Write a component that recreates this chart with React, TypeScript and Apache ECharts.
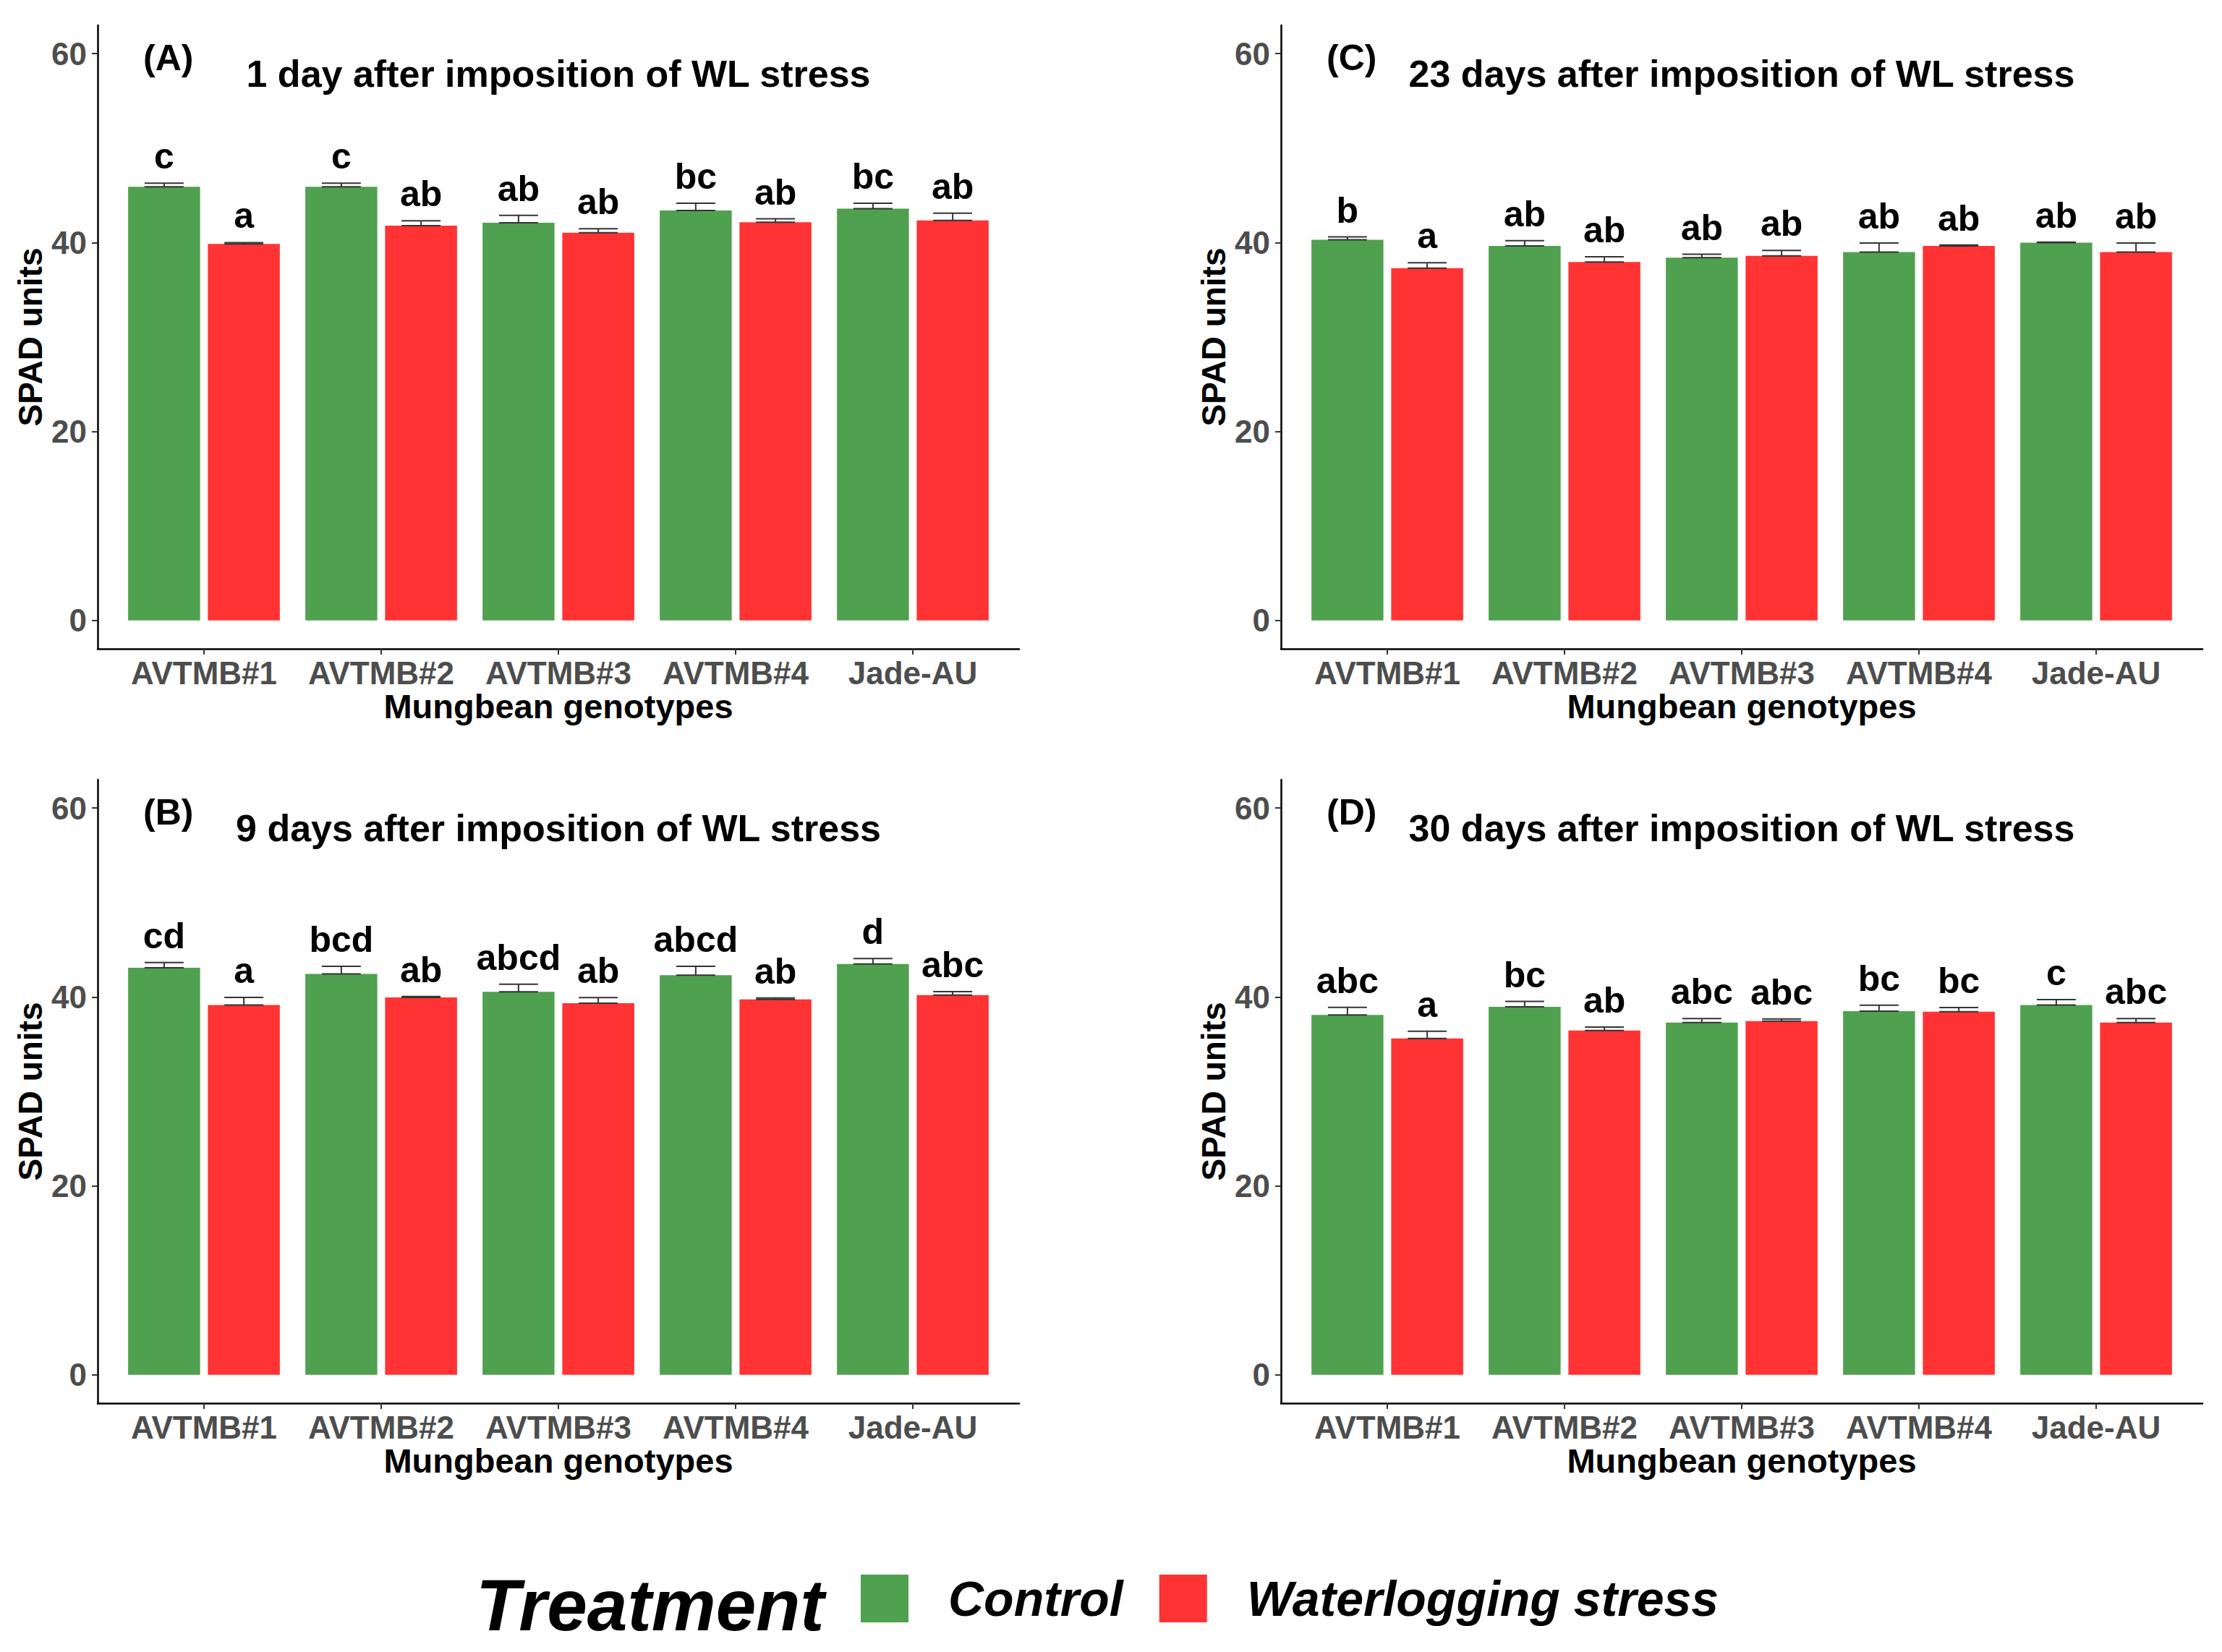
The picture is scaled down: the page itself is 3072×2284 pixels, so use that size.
import React, { useEffect, useRef } from "react";
import * as echarts from "echarts";

// ---------------- data ----------------
const genotypes = ["AVTMB#1", "AVTMB#2", "AVTMB#3", "AVTMB#4", "Jade-AU"];
const genotypePositions = [1, 2, 3, 4, 5];
const treatments = ["Control", "Waterlogging stress"];
const treatmentColors = ["#4FA04F", "#FF3333"];
const yTickValues = [0, 20, 40, 60];

const panelIds = ["(A)", "(B)", "(C)", "(D)"];
const panelTitles = [
  "1 day after imposition of WL stress",
  "9 days after imposition of WL stress",
  "23 days after imposition of WL stress",
  "30 days after imposition of WL stress",
];

// (A) 1 day
const aControlMean = [45.9, 45.9, 42.1, 43.4, 43.6];
const aControlSE = [0.38, 0.38, 0.78, 0.77, 0.57];
const aControlLetters = ["c", "c", "ab", "bc", "bc"];
const aStressMean = [39.85, 41.8, 41.05, 42.15, 42.35];
const aStressSE = [0.15, 0.5, 0.41, 0.36, 0.76];
const aStressLetters = ["a", "ab", "ab", "ab", "ab"];

// (B) 9 days
const bControlMean = [43.1, 42.45, 40.55, 42.3, 43.5];
const bControlSE = [0.55, 0.8, 0.8, 0.95, 0.57];
const bControlLetters = ["cd", "bcd", "abcd", "abcd", "d"];
const bStressMean = [39.15, 39.95, 39.35, 39.75, 40.2];
const bStressSE = [0.8, 0.1, 0.58, 0.15, 0.36];
const bStressLetters = ["a", "ab", "ab", "ab", "abc"];

// (C) 23 days
const cControlMean = [40.3, 39.65, 38.4, 39.0, 40.0];
const cControlSE = [0.3, 0.56, 0.36, 0.95, 0.05];
const cControlLetters = ["b", "ab", "ab", "ab", "ab"];
const cStressMean = [37.3, 37.95, 38.6, 39.65, 39.0];
const cStressSE = [0.56, 0.55, 0.56, 0.1, 0.95];
const cStressLetters = ["a", "ab", "ab", "ab", "ab"];

// (D) 30 days
const dControlMean = [38.1, 38.95, 37.3, 38.5, 39.15];
const dControlSE = [0.8, 0.58, 0.41, 0.64, 0.58];
const dControlLetters = ["abc", "bc", "abc", "bc", "c"];
const dStressMean = [35.6, 36.45, 37.45, 38.45, 37.3];
const dStressSE = [0.77, 0.36, 0.23, 0.44, 0.41];
const dStressLetters = ["a", "ab", "abc", "bc", "abc"];

// ---------------- layout ----------------
const FONT = "'Liberation Sans', Arial, Helvetica, sans-serif";
const PLOT_W = 1274;
const PLOT_H = 862;
const panelRects = [
  { left: 135, top: 35 },
  { left: 135, top: 1078 },
  { left: 1771, top: 35 },
  { left: 1771, top: 1078 },
];

const panels = [
  { mean: [aControlMean, aStressMean], se: [aControlSE, aStressSE], letters: [aControlLetters, aStressLetters] },
  { mean: [bControlMean, bStressMean], se: [bControlSE, bStressSE], letters: [bControlLetters, bStressLetters] },
  { mean: [cControlMean, cStressMean], se: [cControlSE, cStressSE], letters: [cControlLetters, cStressLetters] },
  { mean: [dControlMean, dStressMean], se: [dControlSE, dStressSE], letters: [dControlLetters, dStressLetters] },
];

const DODGE = 0.225;
const HALF_BAR = 0.203;
const HALF_CAP = 0.11;

function buildOption() {
  const grid: any[] = [];
  const xAxis: any[] = [];
  const yAxis: any[] = [];
  const series: any[] = [];
  const graphic: any[] = [];

  panels.forEach((p, pi) => {
    const r = panelRects[pi];
    grid.push({ left: r.left, top: r.top, width: PLOT_W, height: PLOT_H, containLabel: false });
    xAxis.push({
      gridIndex: pi,
      type: "value",
      min: 0.4,
      max: 5.6,
      name: "Mungbean genotypes",
      nameLocation: "middle",
      nameGap: 54,
      nameTextStyle: { fontSize: 47, fontWeight: "bold", color: "#000", fontFamily: FONT },
      axisLine: { show: true, onZero: false, lineStyle: { color: "#000", width: 2.5 } },
      axisTick: { show: true, customValues: genotypePositions, length: 8, lineStyle: { color: "#333", width: 2 } },
      axisLabel: {
        show: true,
        customValues: genotypePositions,
        formatter: (v: number) => genotypes[Math.round(v) - 1] ?? "",
        fontSize: 44,
        fontWeight: "bold",
        color: "#4D4D4D",
        fontFamily: FONT,
        margin: 11,
      },
      splitLine: { show: false },
    });
    yAxis.push({
      gridIndex: pi,
      type: "value",
      min: -3,
      max: 63,
      name: "SPAD units",
      nameLocation: "middle",
      nameRotate: 90,
      nameGap: 70,
      nameTextStyle: { fontSize: 46, fontWeight: "bold", color: "#000", fontFamily: FONT },
      axisLine: { show: true, onZero: false, lineStyle: { color: "#000", width: 2.5 } },
      axisTick: { show: true, customValues: yTickValues, length: 8, lineStyle: { color: "#333", width: 2 } },
      axisLabel: {
        show: true,
        customValues: yTickValues,
        fontSize: 44,
        fontWeight: "bold",
        color: "#4D4D4D",
        fontFamily: FONT,
        margin: 15,
      },
      splitLine: { show: false },
    });

    treatments.forEach((t, ti) => {
      const off = ti === 0 ? -DODGE : DODGE;
      const letters = p.letters[ti];
      const color = treatmentColors[ti];
      series.push({
        type: "custom",
        name: t,
        xAxisIndex: pi,
        yAxisIndex: pi,
        itemStyle: { color },
        encode: { x: 0, y: 1 },
        data: genotypePositions.map((g, gi) => [g, p.mean[ti][gi], p.se[ti][gi]]),
        renderItem: (params: any, api: any) => {
          const x = api.value(0) + off;
          const mean = api.value(1);
          const se = api.value(2);
          const bl = api.coord([x - HALF_BAR, 0]);
          const tr = api.coord([x + HALF_BAR, mean]);
          const top = api.coord([x, mean + se]);
          const base = api.coord([x, mean]);
          const capL = api.coord([x - HALF_CAP, mean])[0];
          const capR = api.coord([x + HALF_CAP, mean])[0];
          const ls = { stroke: "#333", lineWidth: 2 };
          return {
            type: "group",
            children: [
              {
                type: "rect",
                shape: { x: bl[0], y: tr[1], width: tr[0] - bl[0], height: bl[1] - tr[1] },
                style: { fill: color },
              },
              { type: "line", shape: { x1: top[0], y1: top[1], x2: base[0], y2: base[1] }, style: ls },
              { type: "line", shape: { x1: capL, y1: top[1], x2: capR, y2: top[1] }, style: ls },
              { type: "line", shape: { x1: capL, y1: base[1], x2: capR, y2: base[1] }, style: ls },
              {
                type: "text",
                x: top[0],
                y: top[1] - 12,
                style: {
                  text: letters[params.dataIndex],
                  fontSize: 50,
                  fontWeight: "bold",
                  fontFamily: FONT,
                  fill: "#000",
                  align: "center",
                  verticalAlign: "bottom",
                },
              },
            ],
          };
        },
      });
    });

    // panel id and title
    graphic.push({
      type: "text",
      left: r.left + 63,
      top: r.top + 20,
      style: {
        text: panelIds[pi],
        fontSize: 50,
        fontWeight: "bold",
        fontFamily: FONT,
        fill: "#000",
      },
    });
    graphic.push({
      type: "text",
      x: r.left + PLOT_W / 2,
      y: r.top + 67,
      style: {
        text: panelTitles[pi],
        fontSize: 52,
        fontWeight: "bold",
        fontFamily: FONT,
        fill: "#000",
        align: "center",
        verticalAlign: "middle",
      },
    });
  });

  graphic.push({
    type: "text",
    x: 658,
    y: 2219,
    style: {
      text: "Treatment",
      fontSize: 100,
      fontWeight: "bold",
      fontStyle: "italic",
      fontFamily: FONT,
      fill: "#000",
      align: "left",
      verticalAlign: "middle",
    },
  });

  return {
    animation: false,
    backgroundColor: "#ffffff",
    textStyle: { fontFamily: FONT },
    color: treatmentColors,
    grid,
    xAxis,
    yAxis,
    series,
    graphic,
    legend: {
      show: true,
      left: 1185,
      top: 2171,
      orient: "horizontal",
      itemWidth: 66,
      itemHeight: 66,
      itemGap: 50,
      selectedMode: false,
      data: treatments.map((t, i) => ({ name: t, icon: "rect", itemStyle: { color: treatmentColors[i] } })),
      textStyle: {
        fontSize: 68,
        fontWeight: "bold",
        fontStyle: "italic",
        color: "#000",
        fontFamily: FONT,
        padding: [0, 0, 0, 50],
      },
    },
  };
}

export default function App() {
  const ref = useRef<HTMLDivElement>(null);
  useEffect(() => {
    if (!ref.current) return;
    const chart = echarts.init(ref.current, undefined, { renderer: "svg" });
    chart.setOption(buildOption() as any);
    return () => chart.dispose();
  }, []);
  return (
    <div
      ref={ref}
      style={{ position: "absolute", left: 0, top: 0, width: 3072, height: 2284, background: "#fff" }}
    />
  );
}
